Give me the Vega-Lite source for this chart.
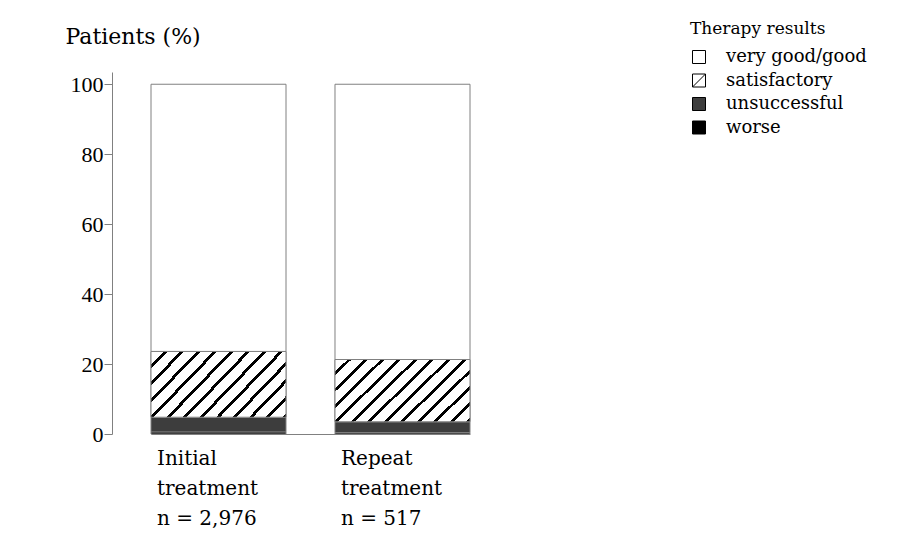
{
  "$schema": "https://vega.github.io/schema/vega-lite/v6.json",
  "width": 790,
  "height": 362,
  "autosize": {"type": "none"},
  "padding": {"left": 112, "top": 72, "right": 19, "bottom": 108},
  "background": "white",
  "config": {
    "view": {"stroke": null},
    "font": "DejaVu Serif",
    "axis": {"grid": false, "domainColor": "#808080", "tickColor": "#808080", "labelColor": "black", "titleColor": "black", "labelFont": "DejaVu Serif", "titleFont": "DejaVu Serif", "titleFontWeight": "normal"},
    "legend": {"labelFont": "DejaVu Serif", "titleFont": "DejaVu Serif", "titleFontWeight": "normal"}
  },
  "data": {
    "values": [
      {"group": "Initial|treatment|n = 2,976", "result": "worse", "rank": 1, "value": 0.6},
      {"group": "Initial|treatment|n = 2,976", "result": "unsuccessful", "rank": 2, "value": 4.2},
      {"group": "Initial|treatment|n = 2,976", "result": "satisfactory", "rank": 3, "value": 18.8},
      {"group": "Initial|treatment|n = 2,976", "result": "very good/good", "rank": 4, "value": 76.4},
      {"group": "Repeat|treatment|n = 517", "result": "worse", "rank": 1, "value": 0.4},
      {"group": "Repeat|treatment|n = 517", "result": "unsuccessful", "rank": 2, "value": 3.1},
      {"group": "Repeat|treatment|n = 517", "result": "satisfactory", "rank": 3, "value": 17.8},
      {"group": "Repeat|treatment|n = 517", "result": "very good/good", "rank": 4, "value": 78.7}
    ]
  },
  "transform": [
    {"stack": "value", "groupby": ["group"], "sort": [{"field": "rank", "order": "ascending"}], "as": ["v0", "v1"]}
  ],
  "encoding": {
    "x": {
      "field": "group",
      "type": "nominal",
      "sort": null,
      "scale": {"range": [39, 358], "paddingInner": 0.2663, "paddingOuter": 0},
      "axis": {
        "title": null,
        "ticks": false,
        "labelAngle": 0,
        "labelAlign": "left",
        "labelBaseline": "top",
        "labelOffset": -61.5,
        "labelPadding": 14,
        "labelFontSize": 20,
        "labelLineHeight": 30,
        "labelExpr": "split(datum.label, '|')"
      }
    },
    "y": {
      "field": "v1",
      "type": "quantitative",
      "scale": {"domain": [0, 103.5], "nice": false, "zero": true},
      "axis": {
        "values": [0, 20, 40, 60, 80, 100],
        "tickSize": 8,
        "labelPadding": 1,
        "labelFont": "Liberation Serif",
        "labelFontSize": 22,
        "title": "Patients (%)",
        "titleAngle": 0,
        "titleAlign": "left",
        "titleBaseline": "alphabetic",
        "titleX": -47,
        "titleY": -29,
        "titleFontSize": 22,
        "encode": {"ticks": {"x2": {"value": 8}}}
      }
    },
    "y2": {"field": "v0"}
  },
  "layer": [
    {
      "mark": {"type": "bar", "stroke": "#808080", "strokeWidth": 1},
      "encoding": {
        "fill": {
          "field": "result",
          "type": "nominal",
          "scale": {
            "domain": ["very good/good", "satisfactory", "unsuccessful", "worse"],
            "range": ["white", "white", "#3d3d3d", "black"]
          },
          "legend": {
            "title": "Therapy results",
            "orient": "none",
            "legendX": 578,
            "legendY": -51,
            "titleFontSize": 17,
            "titlePadding": 10,
            "labelFontSize": 18,
            "symbolType": "square",
            "symbolSize": 169,
            "symbolStrokeColor": "black",
            "symbolStrokeWidth": 1,
            "rowPadding": 5.5,
            "labelOffset": 18,
            "encode": {
              "symbols": {
                "update": {
                  "stroke": {"value": "black"},
                  "shape": [
                    {"test": "datum.value === 'satisfactory'", "value": "M-1,-1H1V1H-1ZM-1,1L1,-1"},
                    {"value": "square"}
                  ]
                }
              }
            }
          }
        }
      }
    },
    {
      "transform": [{"filter": "datum.result === 'satisfactory'"}],
      "mark": {
        "type": "bar",
        "stroke": "#808080",
        "strokeWidth": 1,
        "fill": {"gradient": "linear", "x1": 0, "y1": 0, "x2": 1.204, "y2": 0.566, "stops": [
          {"offset": 0, "color": "white"}, {"offset": 0.0633, "color": "white"}, {"offset": 0.0633, "color": "black"}, {"offset": 0.0833, "color": "black"},
          {"offset": 0.0833, "color": "white"}, {"offset": 0.1467, "color": "white"}, {"offset": 0.1467, "color": "black"}, {"offset": 0.1667, "color": "black"},
          {"offset": 0.1667, "color": "white"}, {"offset": 0.23, "color": "white"}, {"offset": 0.23, "color": "black"}, {"offset": 0.25, "color": "black"},
          {"offset": 0.25, "color": "white"}, {"offset": 0.3133, "color": "white"}, {"offset": 0.3133, "color": "black"}, {"offset": 0.3333, "color": "black"},
          {"offset": 0.3333, "color": "white"}, {"offset": 0.3967, "color": "white"}, {"offset": 0.3967, "color": "black"}, {"offset": 0.4167, "color": "black"},
          {"offset": 0.4167, "color": "white"}, {"offset": 0.48, "color": "white"}, {"offset": 0.48, "color": "black"}, {"offset": 0.5, "color": "black"},
          {"offset": 0.5, "color": "white"}, {"offset": 0.5633, "color": "white"}, {"offset": 0.5633, "color": "black"}, {"offset": 0.5833, "color": "black"},
          {"offset": 0.5833, "color": "white"}, {"offset": 0.6467, "color": "white"}, {"offset": 0.6467, "color": "black"}, {"offset": 0.6667, "color": "black"},
          {"offset": 0.6667, "color": "white"}, {"offset": 0.73, "color": "white"}, {"offset": 0.73, "color": "black"}, {"offset": 0.75, "color": "black"},
          {"offset": 0.75, "color": "white"}, {"offset": 0.8133, "color": "white"}, {"offset": 0.8133, "color": "black"}, {"offset": 0.8333, "color": "black"},
          {"offset": 0.8333, "color": "white"}, {"offset": 0.8967, "color": "white"}, {"offset": 0.8967, "color": "black"}, {"offset": 0.9167, "color": "black"},
          {"offset": 0.9167, "color": "white"}, {"offset": 0.98, "color": "white"}, {"offset": 0.98, "color": "black"}, {"offset": 1, "color": "black"}
        ]}
      }
    }
  ]
}
